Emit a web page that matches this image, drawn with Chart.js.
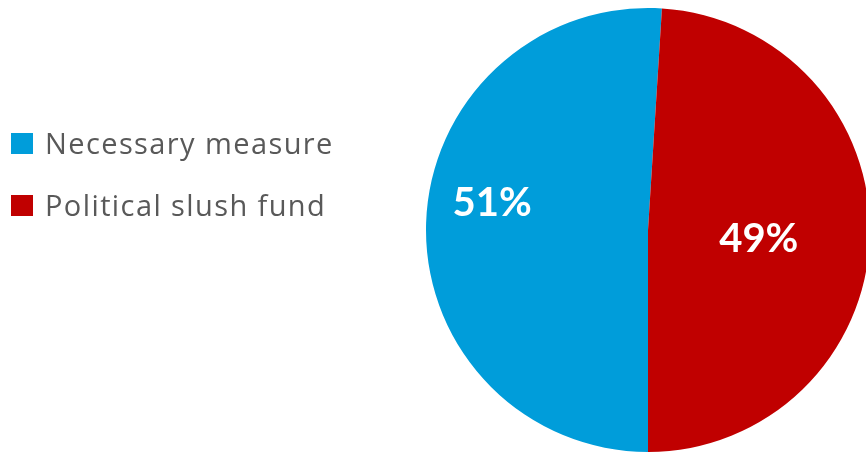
<!DOCTYPE html>
<html>
<head>
<meta charset="utf-8">
<script src="https://cdn.jsdelivr.net/npm/chart.js@4/dist/chart.umd.min.js"></script>
<style>
  html, body { margin: 0; padding: 0; background: #ffffff; overflow: hidden; }
  #wrap { position: relative; width: 880px; height: 454px; }
  #legend { position: absolute; left: 11px; top: 0; font-family: "Open Sans", Lato, sans-serif; color: #595959; }
  .item { position: absolute; left: 0; white-space: nowrap; font-size: 29px; line-height: 30px; letter-spacing: 1.4px; }
  .sw { position: absolute; left: 0; width: 22px; height: 21px; }
  .txt { position: absolute; left: 34px; }
</style>
</head>
<body>
<div id="wrap">
  <canvas id="c" width="880" height="454"></canvas>
  <div id="legend"></div>
</div>
<script>
const categories = ["Necessary measure", "Political slush fund"];
const values = [51, 49];
const labels = ["51%", "49%"];
const colors = ["#009DDA", "#C00000"];

// label placement style: fraction of radius and angle shift (degrees)
const labelRadiusFrac = [0.714, 0.50];
const labelAngleShift = [8.6, 1.8];

// HTML legend
const legend = document.getElementById('legend');
const legendTops = [133, 195];
categories.forEach((c, i) => {
  const it = document.createElement('div');
  it.className = 'item';
  it.style.top = legendTops[i] + 'px';
  it.innerHTML = '<div class="sw" style="background:' + colors[i] + ';top:0px"></div><div class="txt" style="top:-5px">' + c + '</div>';
  legend.appendChild(it);
});

const pieLabels = {
  id: 'pieLabels',
  afterDatasetsDraw(chart) {
    const ctx = chart.ctx;
    const meta = chart.getDatasetMeta(0);
    ctx.save();
    ctx.fillStyle = '#ffffff';
    ctx.font = 'bold 40px Lato, "Open Sans", sans-serif';
    ctx.textAlign = 'center';
    ctx.textBaseline = 'middle';
    meta.data.forEach((arc, i) => {
      const p = arc.getProps(['x', 'y', 'startAngle', 'endAngle', 'outerRadius'], true);
      const mid = (p.startAngle + p.endAngle) / 2 + labelAngleShift[i] * Math.PI / 180;
      const r = p.outerRadius * labelRadiusFrac[i];
      ctx.fillText(labels[i], p.x + Math.cos(mid) * r, p.y + Math.sin(mid) * r + 2);
    });
    ctx.restore();
  }
};

new Chart(document.getElementById('c'), {
  type: 'pie',
  data: {
    labels: categories,
    datasets: [{
      data: values,
      backgroundColor: colors,
      borderWidth: 0
    }]
  },
  options: {
    responsive: false,
    animation: false,
    rotation: 180,
    layout: { padding: { left: 426, right: 10, top: 8, bottom: 2 } },
    plugins: {
      legend: { display: false },
      tooltip: { enabled: false }
    }
  },
  plugins: [pieLabels]
});
</script>
</body>
</html>
